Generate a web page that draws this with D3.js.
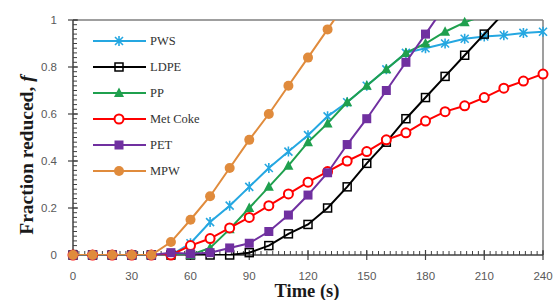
<!DOCTYPE html>
<html><head><meta charset="utf-8">
<script src="https://cdn.jsdelivr.net/npm/d3@7"></script>
<style>body{margin:0;background:#fff}svg{display:block}</style>
</head><body><svg id="c" width="556" height="300"></svg>
<script>
const times = [0,10,20,30,40,50,60,70,80,90,100,110,120,130,140,150,160,170,180,190,200,210,220,230,240];
const pws     = [0,0,0,0,0,0,0.05,0.14,0.21,0.29,0.37,0.44,0.51,0.59,0.65,0.72,0.79,0.86,0.88,0.90,0.92,0.93,0.935,0.945,0.95];
const ldpe    = [0,0,0,0,0,0,0,0,0,0.01,0.04,0.09,0.13,0.20,0.29,0.39,0.48,0.58,0.67,0.76,0.85,0.94,1.03,null,null];
const pp      = [0,0,0,0,0,0,0,0.03,0.11,0.20,0.29,0.38,0.48,0.56,0.65,0.72,0.79,0.86,0.90,0.95,0.99,1.02,null,null,null];
const metCoke = [0,0,0,0,0,0,0.04,0.07,0.115,0.16,0.21,0.26,0.31,0.355,0.40,0.44,0.49,0.52,0.57,0.61,0.635,0.67,0.71,0.74,0.77];
const pet     = [0,0,0,0,0,0.01,0.005,0.01,0.03,0.05,0.10,0.17,0.255,0.35,0.47,0.58,0.70,0.82,0.94,1.06,null,null,null,null,null];
const mpw     = [0,0,0,0,0,0.055,0.15,0.25,0.37,0.49,0.60,0.72,0.84,0.96,1.08,null,null,null,null,null,null,null,null,null,null];
const xTicks = [0,30,60,90,120,150,180,210,240];
const yTicks = [0,0.2,0.4,0.6,0.8,1];
const yTickLabels = ["0","0.2","0.4","0.6","0.8","1"];
const seriesNames = ["PWS","LDPE","PP","Met Coke","PET","MPW"];
const seriesValues = [pws, ldpe, pp, metCoke, pet, mpw];
const colors = ["#25A7E1","#000000","#1FA04E","#FF0000","#7030A0","#E08B3C"];
const markers = ["star","squareOpen","triangle","circleOpen","square","circle"];

const svg = d3.select("#c");
const L=73, R=543, T=20, B=255;
const x = d3.scaleLinear().domain([0,240]).range([L,R]);
const y = d3.scaleLinear().domain([0,1]).range([B,T]);

svg.append("defs").append("clipPath").attr("id","clip")
  .append("rect").attr("x",L).attr("y",T).attr("width",R-L).attr("height",B-T);

// frame top/right
svg.append("line").attr("x1",L).attr("x2",R).attr("y1",T).attr("y2",T).attr("stroke","#7f7f7f").attr("stroke-width",1.5);
svg.append("line").attr("x1",R).attr("x2",R).attr("y1",T).attr("y2",B).attr("stroke","#7f7f7f").attr("stroke-width",1.5);

// minor ticks
const gx = svg.append("g");
const xMinor = d3.range(0,241,3);
gx.selectAll("line.mx").data(xMinor).join("line")
  .attr("x1",d=>x(d)).attr("x2",d=>x(d)).attr("y1",B).attr("y2",B-4)
  .attr("stroke","#404040").attr("stroke-width",1);
gx.selectAll("line.Mx").data(xTicks).join("line").attr("class","Mx")
  .attr("x1",d=>x(d)).attr("x2",d=>x(d)).attr("y1",B-5).attr("y2",B+5)
  .attr("stroke","#404040").attr("stroke-width",1.2);
const yMinor = d3.range(0,51).map(i=>i*0.02);
gx.selectAll("line.my").data(yMinor).join("line").attr("class","my")
  .attr("x1",L).attr("x2",L+4).attr("y1",d=>y(d)).attr("y2",d=>y(d))
  .attr("stroke","#404040").attr("stroke-width",1);
gx.selectAll("line.My").data(yTicks).join("line").attr("class","My")
  .attr("x1",L-5).attr("x2",L+5).attr("y1",d=>y(d)).attr("y2",d=>y(d))
  .attr("stroke","#404040").attr("stroke-width",1.2);
svg.append("line").attr("x1",L).attr("x2",R).attr("y1",B).attr("y2",B).attr("stroke","#404040").attr("stroke-width",1.5);
svg.append("line").attr("x1",L).attr("x2",L).attr("y1",T).attr("y2",B).attr("stroke","#404040").attr("stroke-width",1.5);

// tick labels
svg.selectAll("text.xl").data(xTicks).join("text").attr("class","xl")
  .attr("x",d=>x(d)).attr("y",280).attr("text-anchor","middle")
  .attr("font-family","Liberation Sans, Arial").attr("font-size",11.5).attr("fill","#595959").text(d=>d);
svg.selectAll("text.yl").data(yTicks).join("text").attr("class","yl")
  .attr("x",57).attr("y",d=>y(d)+4).attr("text-anchor","end")
  .attr("font-family","Liberation Sans, Arial").attr("font-size",11.5).attr("fill","#595959").text((d,i)=>yTickLabels[i]);

// axis titles
svg.append("text").attr("x",307).attr("y",297).attr("text-anchor","middle")
  .attr("font-family","Liberation Serif, Times New Roman").attr("font-weight","bold").attr("font-size",18.5).attr("fill","#1a1a1a").text("Time (s)");
const yt = svg.append("text").attr("transform","translate(33,155) rotate(-90)").attr("text-anchor","middle")
  .attr("font-family","Liberation Serif, Times New Roman").attr("font-weight","bold").attr("font-size",19.5).attr("fill","#1a1a1a");
yt.append("tspan").text("Fraction reduced, ");
yt.append("tspan").attr("font-style","italic").text("f");

function drawMarker(g, type, color) {
  if (type==="circle") g.append("circle").attr("r",5).attr("fill",color);
  else if (type==="circleOpen") g.append("circle").attr("r",4.5).attr("fill","#fff").attr("stroke",color).attr("stroke-width",2);
  else if (type==="square") g.append("rect").attr("x",-4.5).attr("y",-4.5).attr("width",9).attr("height",9).attr("fill",color);
  else if (type==="squareOpen") g.append("rect").attr("x",-4).attr("y",-4).attr("width",8).attr("height",8).attr("fill","none").attr("stroke",color).attr("stroke-width",1.5);
  else if (type==="triangle") g.append("path").attr("d","M0,-5.5L5,4L-5,4Z").attr("fill",color);
  else if (type==="star") g.append("path").attr("d","M-4,-4L4,4M-4,4L4,-4M0,-5L0,5").attr("stroke",color).attr("stroke-width",1.6).attr("fill","none");
}

const line = d3.line().defined(d=>d[1]!==null).x(d=>x(d[0])).y(d=>y(d[1]));
seriesValues.forEach((vals,i)=>{
  const pts = times.map((t,j)=>[t,vals[j]]);
  svg.append("path").attr("d",line(pts)).attr("fill","none").attr("stroke",colors[i])
    .attr("stroke-width",2).attr("clip-path","url(#clip)");
  pts.filter(p=>p[1]!==null && p[1]<=1).forEach(p=>{
    const g = svg.append("g").attr("transform",`translate(${x(p[0])},${y(p[1])})`);
    drawMarker(g, markers[i], colors[i]);
  });
});

// legend
const lg = svg.append("g");
seriesNames.forEach((n,i)=>{
  const yy = 41 + i*26;
  lg.append("line").attr("x1",93).attr("x2",146).attr("y1",yy).attr("y2",yy).attr("stroke",colors[i]).attr("stroke-width",2);
  const g = lg.append("g").attr("transform",`translate(119,${yy})`);
  drawMarker(g, markers[i], colors[i]);
  lg.append("text").attr("x",150).attr("y",yy+4).attr("font-family","Liberation Serif, Times New Roman")
    .attr("font-size",12.5).attr("fill","#333").text(n);
});
</script></body></html>
